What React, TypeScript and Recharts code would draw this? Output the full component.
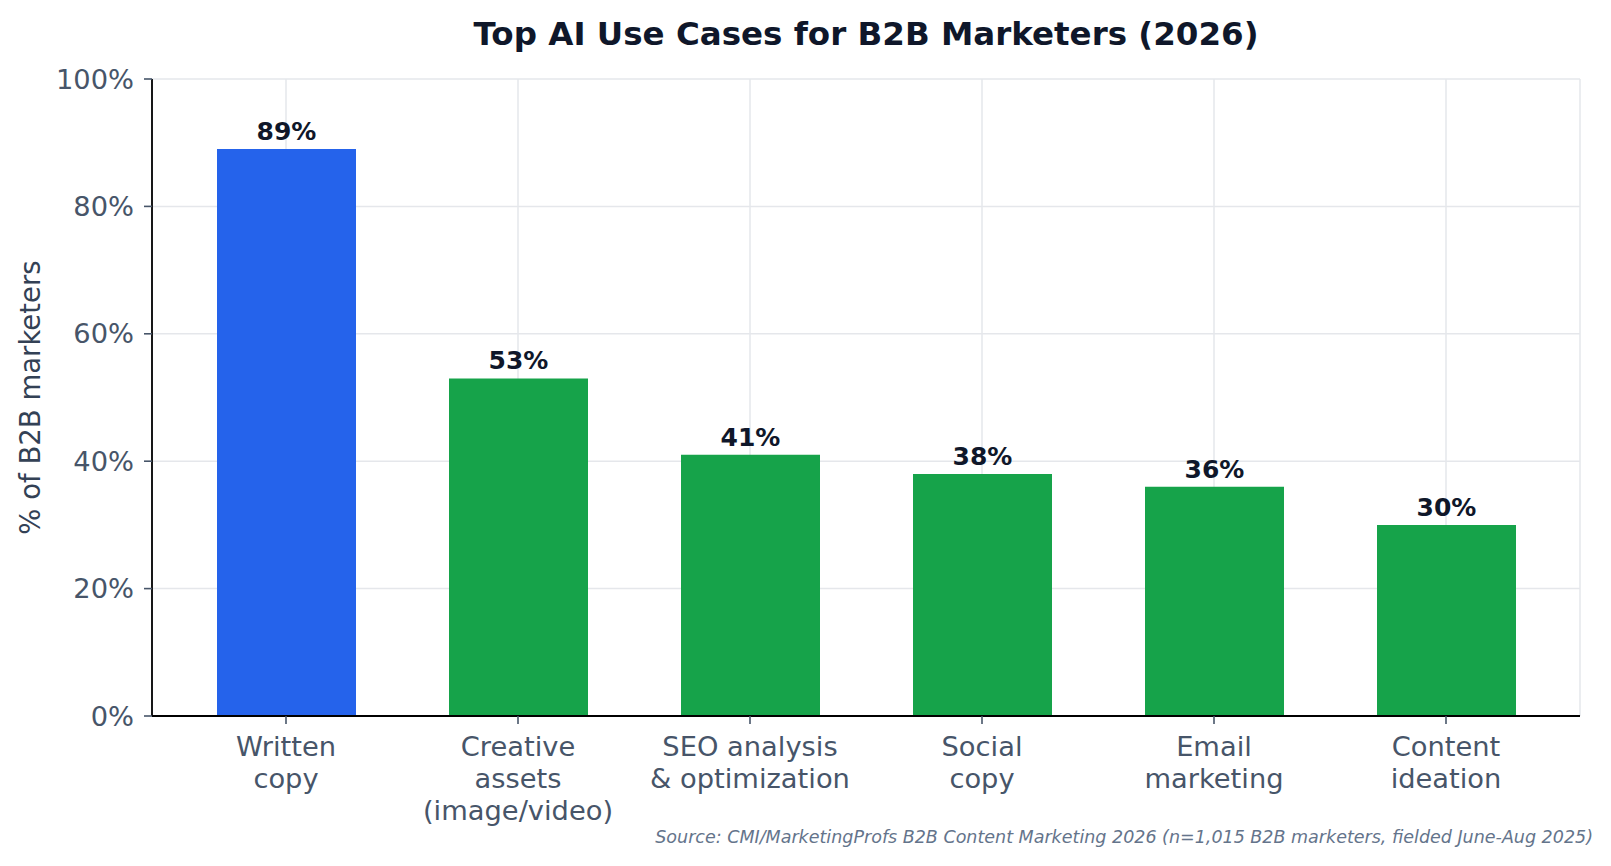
import React from "react";
import {
  BarChart,
  Bar,
  XAxis,
  YAxis,
  CartesianGrid,
  Cell,
  LabelList,
} from "recharts";

// survey results
const useCases = [
  "Written\ncopy",
  "Creative\nassets\n(image/video)",
  "SEO analysis\n& optimization",
  "Social\ncopy",
  "Email\nmarketing",
  "Content\nideation",
];
const shares = [89, 53, 41, 38, 36, 30];
const yTicks = [0, 20, 40, 60, 80, 100];

const FONT = "'DejaVu Sans', sans-serif";
const TICK_COLOR = "#475569";
const HIGHLIGHT = 0;

const data = useCases.map((name, i) => ({ name, share: shares[i] }));

function CategoryTick(props: any) {
  const { x, y, payload } = props;
  const lines = String(payload.value).split("\n");
  return (
    <text
      x={x}
      y={y + 30}
      textAnchor="middle"
      fill={TICK_COLOR}
      fontSize={27.3}
      fontFamily={FONT}
    >
      {lines.map((line, i) => (
        <tspan key={i} x={x} dy={i === 0 ? 0 : 32}>
          {line}
        </tspan>
      ))}
    </text>
  );
}

function YLabel(props: any) {
  const vb = props.viewBox || { y: 71, height: 637 };
  const cx = 32;
  const cy = vb.y + vb.height / 2;
  return (
    <text
      x={cx}
      y={cy}
      transform={`rotate(-90 ${cx} ${cy})`}
      textAnchor="middle"
      fill="#334155"
      fontSize={27.5}
      fontFamily={FONT}
    >
      % of B2B marketers
    </text>
  );
}

export default function App() {
  return (
    <div
      style={{
        position: "relative",
        width: 1595,
        height: 850,
        fontFamily: FONT,
        background: "#fff",
      }}
    >
      <div
        style={{
          position: "absolute",
          left: 144,
          width: 1428,
          top: 10,
          textAlign: "center",
          fontSize: 32.5,
          lineHeight: 1,
          fontWeight: "bold",
          color: "#0f172a",
          whiteSpace: "nowrap",
        }}
      >
        Top AI Use Cases for B2B Marketers (2026)
      </div>
      <BarChart
        width={1595}
        height={850}
        data={data}
        margin={{ top: 71, right: 23, bottom: 0, left: 0 }}
      >
        <CartesianGrid stroke="#e5e7eb" strokeWidth={1.5} />
        <XAxis
          dataKey="name"
          height={142}
          interval={0}
          padding={{ left: 18, right: 18 }}
          axisLine={{ stroke: "#000", strokeWidth: 1.8 }}
          tickLine={{ stroke: TICK_COLOR, strokeWidth: 1.6 }}
          tickSize={8}
          tick={<CategoryTick />}
        />
        <YAxis
          width={144}
          domain={[0, 100]}
          ticks={yTicks}
          interval={0}
          tickFormatter={(v) => `${v}%`}
          axisLine={{ stroke: "#000", strokeWidth: 1.8 }}
          tickLine={{ stroke: TICK_COLOR, strokeWidth: 1.6 }}
          tickSize={8}
          tickMargin={10}
          tick={{ fill: TICK_COLOR, fontSize: 27.3, fontFamily: FONT }}
          label={{ content: (p: any) => <YLabel {...p} /> }}
        />
        <Bar dataKey="share" barSize={139} isAnimationActive={false}>
          {data.map((entry, i) => (
            <Cell
              key={`cell-${entry.name}`}
              fill={i === HIGHLIGHT ? "#2563eb" : "#16a34a"}
            />
          ))}
          <LabelList
            dataKey="share"
            position="top"
            offset={9}
            formatter={(v: any) => `${v}%`}
            fill="#0f172a"
            fontSize={25}
            fontWeight="bold"
            fontFamily={FONT}
          />
        </Bar>
      </BarChart>
      <div
        style={{
          position: "absolute",
          right: 10,
          top: 820.5,
          fontSize: 17.5,
          lineHeight: 1,
          fontStyle: "italic",
          color: "#64748b",
          whiteSpace: "nowrap",
        }}
      >
        Source: CMI/MarketingProfs B2B Content Marketing 2026 (n=1,015 B2B
        marketers, fielded June-Aug 2025)
      </div>
    </div>
  );
}
